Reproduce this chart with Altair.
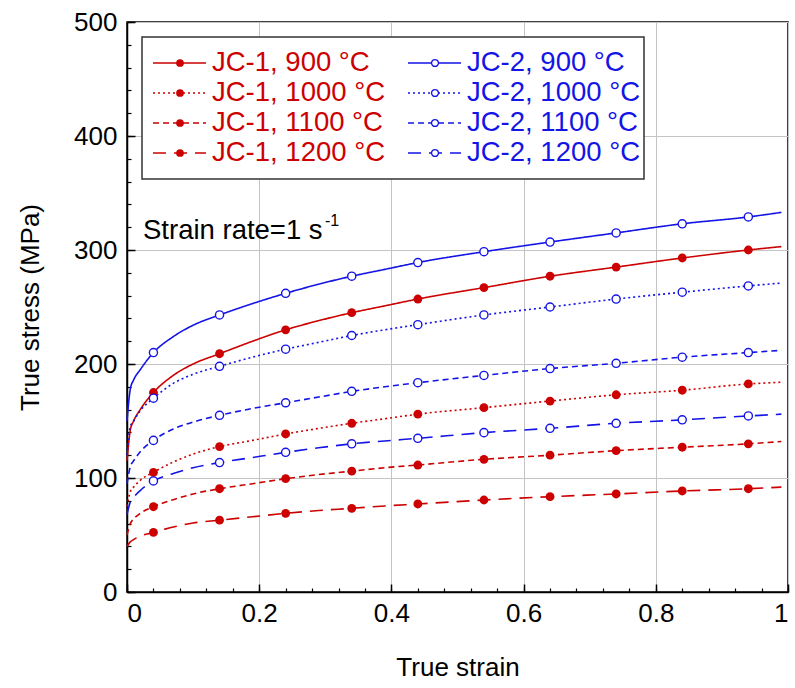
import altair as alt
import pandas as pd

# ---------------- data ----------------
strain = [0, 0.005, 0.01, 0.02, 0.04, 0.07, 0.1, 0.14, 0.19, 0.24, 0.29, 0.34,
          0.39, 0.44, 0.54, 0.64, 0.74, 0.84, 0.94, 0.99]
marker_strain = [0.04, 0.14, 0.24, 0.34, 0.44, 0.54, 0.64, 0.74, 0.84, 0.94]

jc1_900 = [115, 142, 150, 160, 175, 190, 200, 209, 220, 230, 238, 245, 251, 257, 267, 277, 285, 293, 300, 303]
jc1_1000 = [75, 88, 92, 98, 105, 114, 121, 127.5, 133, 138.6, 143.5, 148, 152, 156, 161.7, 167.5, 173, 177, 182.5, 184]
jc1_1100 = [50, 60, 64, 69, 74.8, 81, 86, 90.6, 95, 99.4, 103, 106, 109, 111.4, 116.4, 120, 124, 127, 130, 132]
jc1_1200 = [40, 44, 46, 49, 52.3, 57, 60.5, 63, 66, 69, 71.5, 73.4, 75.5, 77.2, 80.7, 83.6, 86, 88.6, 90.6, 92]
jc2_900 = [150, 178, 186, 195, 210, 224, 234, 243, 253, 262, 270, 277, 283, 289, 298.5, 307, 315, 323, 329, 333]
jc2_1000 = [120, 145, 150, 159, 170, 183, 191, 198, 206, 213, 219, 225, 230, 234.5, 243, 250, 257, 263, 268.5, 271]
jc2_1100 = [95, 110, 115, 123, 133, 143, 149, 155, 161, 166, 171, 176, 180, 183.6, 190, 196, 200.6, 206, 210, 212]
jc2_1200 = [68, 79, 83, 89, 97.4, 104, 109, 113.5, 118, 122.5, 126.5, 130, 132.5, 134.8, 139.8, 143.6, 148, 151, 154.4, 156]

models = ["JC-1", "JC-2"]
temps = ["900", "1000", "1100", "1200"]
series = [
    ("JC-1", "900", jc1_900), ("JC-1", "1000", jc1_1000),
    ("JC-1", "1100", jc1_1100), ("JC-1", "1200", jc1_1200),
    ("JC-2", "900", jc2_900), ("JC-2", "1000", jc2_1000),
    ("JC-2", "1100", jc2_1100), ("JC-2", "1200", jc2_1200),
]

x_major = [0, 0.2, 0.4, 0.6, 0.8, 1.0]
x_minor = [round(i * 0.04, 2) for i in range(26)]
y_major = [0, 100, 200, 300, 400, 500]
y_minor = list(range(0, 501, 20))

# ---------------- styling ----------------
RED = "#cc0000"
BLUE = "#1414e6"
FONT = "Liberation Sans"
W, H = 661, 570
PAD_L, PAD_T = 127, 22

rows = []
for g, t, vals in series:
    for s, v in zip(strain, vals):
        rows.append({"model": g, "temp": t, "series": f"{g}, {t} °C",
                     "strain": s, "stress": v, "marker": s in marker_strain})
df = pd.DataFrame(rows)


def px_to_x(px):
    return (px - PAD_L) / W


def px_to_y(py):
    return (PAD_T + H - py) / H * 500


xs = alt.Scale(domain=[0, 1], nice=False, zero=False)
ys = alt.Scale(domain=[0, 500], nice=False)
cs = alt.Scale(domain=models, range=[RED, BLUE])
ds = alt.Scale(domain=temps, range=[[1, 0], [2, 3], [6, 4], [13, 8]])

x_axis = alt.Axis(values=x_major, format="~g", title="True strain", grid=True,
                  gridColor="#c4c4c4", gridWidth=1, domainColor="black", domainWidth=1.5,
                  tickColor="black", tickWidth=1.5, tickSize={"expr": "-8"},
                  labelPadding=16, labelFont=FONT, labelFontSize=26, labelColor="black",
                  titleFont=FONT, titleFontSize=26, titleFontWeight="normal",
                  titleColor="black", titlePadding=28, orient="bottom")
y_axis = alt.Axis(values=y_major, format="d", title="True stress (MPa)", grid=True,
                  gridColor="#c4c4c4", gridWidth=1, domainColor="black", domainWidth=1.5,
                  tickColor="black", tickWidth=1.5, tickSize={"expr": "-8"},
                  labelPadding=18, labelFont=FONT, labelFontSize=26, labelColor="black",
                  titleFont=FONT, titleFontSize=26, titleFontWeight="normal",
                  titleColor="black", titlePadding=30, orient="left")


def X(field):
    return alt.X(field, scale=xs, axis=None)


def Y(field):
    return alt.Y(field, scale=ys, axis=None)


lines = alt.Chart(df).mark_line(strokeWidth=1.6, interpolate="monotone").encode(
    x=alt.X("strain:Q", scale=xs, axis=x_axis),
    y=alt.Y("stress:Q", scale=ys, axis=y_axis),
    color=alt.Color("model:N", scale=cs, legend=None),
    strokeDash=alt.StrokeDash("temp:N", scale=ds, legend=None),
    detail="series:N",
)

minor = alt.Chart(df).mark_point(opacity=0).encode(
    x=alt.X("strain:Q", scale=xs,
            axis=alt.Axis(values=x_minor, labels=False, grid=False, domain=False,
                          tickColor="black", tickWidth=1.2, tickSize={"expr": "-4"},
                          title=None, orient="bottom")),
    y=alt.Y("stress:Q", scale=ys,
            axis=alt.Axis(values=y_minor, labels=False, grid=False, domain=False,
                          tickColor="black", tickWidth=1.2, tickSize={"expr": "-4"},
                          title=None, orient="left")),
)

mk = df[df["marker"]]
pts1 = alt.Chart(mk[mk["model"] == "JC-1"]).mark_circle(size=78, color=RED, opacity=1).encode(
    x=X("strain:Q"), y=Y("stress:Q"))
pts2 = alt.Chart(mk[mk["model"] == "JC-2"]).mark_point(
    size=66, shape="circle", filled=False, fill="white", fillOpacity=1,
    stroke=BLUE, strokeWidth=1.4, opacity=1).encode(
    x=X("strain:Q"), y=Y("stress:Q"))

# annotation
ann = pd.DataFrame({"x": [px_to_x(143)], "y": [px_to_y(231)]})
ann_main = alt.Chart(ann).mark_text(text="Strain rate=1 s", align="left", baseline="middle",
                                    font=FONT, fontSize=27.5, color="black").encode(
    x=X("x:Q"), y=Y("y:Q"))
ann_sup = alt.Chart(ann).mark_text(text="-1", align="left", baseline="middle", dx=182, dy=-10,
                                   font=FONT, fontSize=16, color="black").encode(
    x=X("x:Q"), y=Y("y:Q"))

# legend box built from layout constants
box = pd.DataFrame({"x1": [px_to_x(142)], "x2": [px_to_x(644)],
                    "y1": [px_to_y(37)], "y2": [px_to_y(179)]})
legend_box = alt.Chart(box).mark_rect(fill="white", stroke="#333333", strokeWidth=1.5).encode(
    x=X("x1:Q"), x2="x2:Q", y=Y("y1:Q"), y2="y2:Q")

leg_rows = []
for i, (g, t, _) in enumerate(series):
    col, row = i // 4, i % 4
    base = 153 + col * 255
    ypx = 63 + row * 30
    leg_rows.append({"model": g, "temp": t, "label": f"{g}, {t} °C",
                     "x1": px_to_x(base), "x2": px_to_x(base + 53),
                     "xm": px_to_x(base + 27), "xt": px_to_x(base + 59),
                     "y": px_to_y(ypx)})
leg = pd.DataFrame(leg_rows)

leg_lines = alt.Chart(leg).mark_rule(strokeWidth=1.6).encode(
    x=X("x1:Q"), x2="x2:Q", y=Y("y:Q"),
    color=alt.Color("model:N", scale=cs, legend=None),
    strokeDash=alt.StrokeDash("temp:N", scale=ds, legend=None))
leg_p1 = alt.Chart(leg[leg["model"] == "JC-1"]).mark_circle(size=60, color=RED, opacity=1).encode(
    x=X("xm:Q"), y=Y("y:Q"))
leg_p2 = alt.Chart(leg[leg["model"] == "JC-2"]).mark_point(
    size=48, shape="circle", filled=False, fill="white", fillOpacity=1,
    stroke=BLUE, strokeWidth=1.3, opacity=1).encode(
    x=X("xm:Q"), y=Y("y:Q"))
leg_text = alt.Chart(leg).mark_text(align="left", baseline="middle", font=FONT, fontSize=27.5).encode(
    x=X("xt:Q"), y=Y("y:Q"), text="label:N",
    color=alt.Color("model:N", scale=cs, legend=None))

chart = alt.layer(
    lines, minor, pts1, pts2, ann_main, ann_sup,
    legend_box, leg_lines, leg_p1, leg_p2, leg_text,
).resolve_axis(x="independent", y="independent").properties(
    width=W, height=H,
    autosize=alt.AutoSizeParams(type="none"),
    padding={"left": PAD_L, "top": PAD_T, "right": 795 - PAD_L - W, "bottom": 688 - PAD_T - H},
    background="white",
).configure_view(stroke="black", strokeWidth=1.5)

chart.save("out.html", embed_options={"renderer": "svg", "actions": False})
